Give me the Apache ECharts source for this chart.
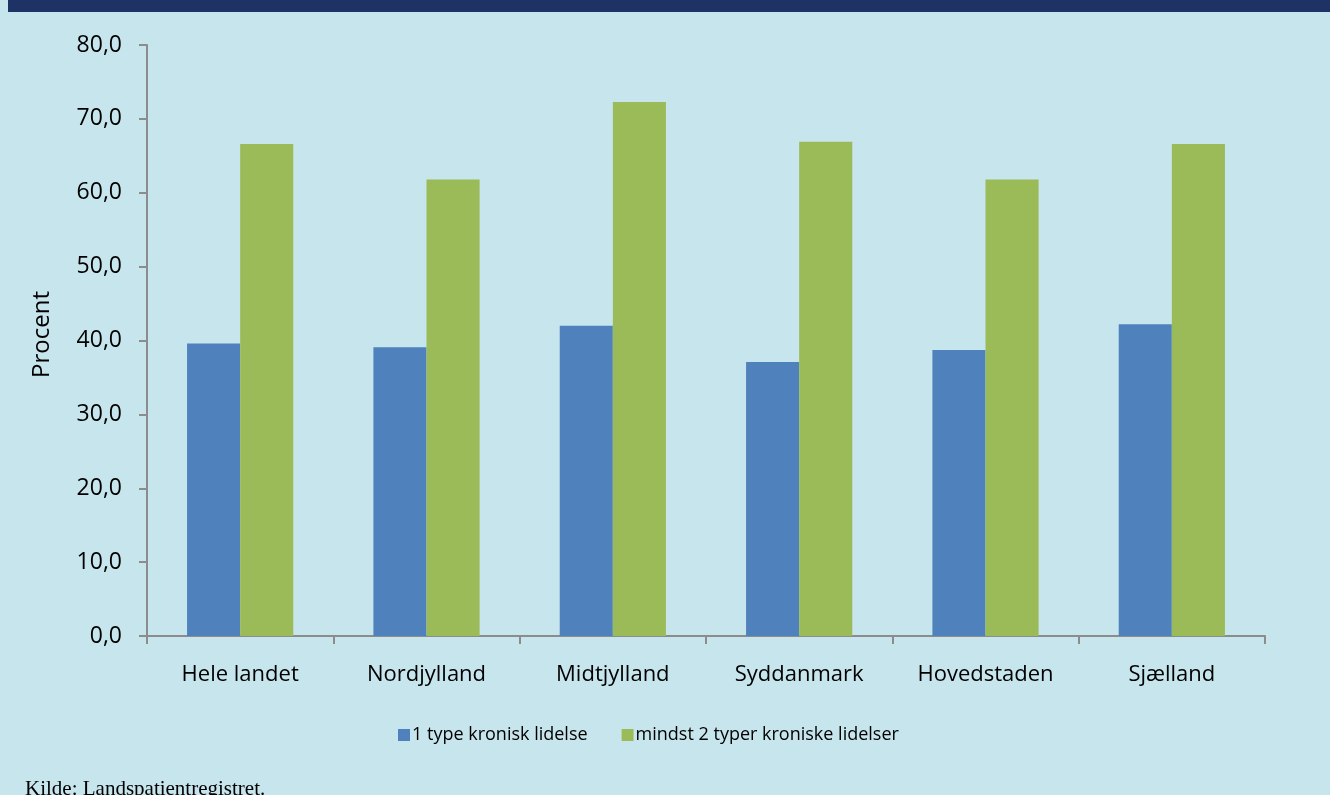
<!DOCTYPE html>
<html>
<head>
<meta charset="utf-8">
<style>
  html, body { margin: 0; padding: 0; background: #c7e5ed; }
  #chart { width: 1330px; height: 795px; }
</style>
<script src="https://cdn.jsdelivr.net/npm/echarts@6/dist/echarts.min.js"></script>
</head>
<body>
<div id="chart"></div>
<script>
const regions = ['Hele landet', 'Nordjylland', 'Midtjylland', 'Syddanmark', 'Hovedstaden', 'Sjælland'];
const oneType = [39.6, 39.1, 42.0, 37.1, 38.7, 42.2];
const twoOrMore = [66.6, 61.8, 72.3, 66.9, 61.8, 66.6];
const seriesNames = ['1 type kronisk lidelse', 'mindst 2 typer kroniske lidelser'];
const sourceText = 'Kilde: Landspatientregistret.';

const fmt = v => v.toFixed(1).replace('.', ',');
const axisGrey = '#8c8c8c';
const sans = '"Open Sans", "Noto Sans", sans-serif';

const chart = echarts.init(document.getElementById('chart'), null, { renderer: 'canvas' });
chart.setOption({
  backgroundColor: '#c7e5ed',
  animation: false,
  graphic: [
    { type: 'rect', shape: { x: 8, y: 0, width: 1322, height: 12 }, style: { fill: '#1f3266' }, silent: true }
  ],
  title: {
    text: sourceText,
    left: 20,
    top: 774,
    textStyle: { fontFamily: '"Liberation Serif", serif', fontSize: 21, fontWeight: 'normal', color: '#000' }
  },
  legend: {
    data: seriesNames,
    left: 393,
    top: 721,
    itemWidth: 12,
    itemHeight: 12,
    itemGap: 34,
    icon: 'rect',
    textStyle: { fontFamily: sans, fontSize: 18, color: '#000', padding: [0, 0, 0, -3] }
  },
  grid: { left: 147, right: 65, top: 45, bottom: 159 },
  xAxis: {
    type: 'category',
    data: regions,
    axisLine: { lineStyle: { color: axisGrey, width: 2 } },
    axisTick: { show: true, length: 8, lineStyle: { color: axisGrey, width: 2 } },
    axisLabel: { fontFamily: sans, fontSize: 22, color: '#000', margin: 28 }
  },
  yAxis: {
    type: 'value',
    min: 0,
    max: 80,
    interval: 10,
    name: 'Procent',
    nameLocation: 'middle',
    nameGap: 93,
    nameTextStyle: { fontFamily: sans, fontSize: 24, color: '#000', padding: [0, 0, 0, 12] },
    axisLine: { show: true, lineStyle: { color: axisGrey, width: 2 } },
    axisTick: { show: true, inside: false, length: 8, lineStyle: { color: axisGrey, width: 2 } },
    splitLine: { show: false },
    axisLabel: { fontFamily: sans, fontSize: 23, color: '#000', margin: 25, formatter: fmt }
  },
  series: [
    {
      name: seriesNames[0],
      type: 'bar',
      data: oneType,
      barGap: '0%',
      barCategoryGap: '43%',
      itemStyle: { color: '#4f81bd' }
    },
    {
      name: seriesNames[1],
      type: 'bar',
      data: twoOrMore,
      itemStyle: { color: '#9bbb59' }
    }
  ]
});
</script>
</body>
</html>
